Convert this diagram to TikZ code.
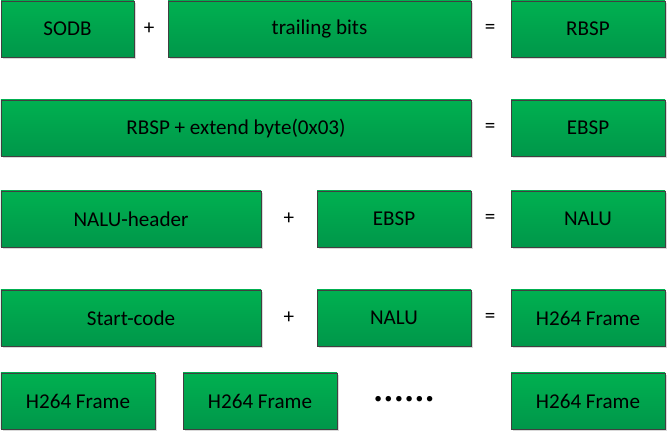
\documentclass[tikz,border=0pt]{standalone}
\usepackage{fontspec}
\setmainfont{Carlito}
\usepackage{xcolor}
\usepackage{tikz}
\usetikzlibrary{shadows}

\definecolor{boxtop}{HTML}{00B050}
\definecolor{boxbot}{HTML}{00974A}
\definecolor{boxline}{HTML}{404040}

\begin{document}
\begin{tikzpicture}[block/.style = {shape=rectangle, draw=boxline, line width=0.7pt, top color=boxtop, bottom color=boxbot, minimum height=1.4cm, inner sep=0pt, font=\fontsize{15}{18}\selectfont, drop shadow={shadow xshift=0.06cm, shadow yshift=-0.06cm, opacity=0.15, fill=black}},
 op/.style = {font=\fontsize{15}{18}\selectfont, inner sep=0pt}]

\useasboundingbox (0,0) rectangle (16.7,-10.775);

% row 1
\node[block, minimum width=3.325cm] (sodb) at (1.6875,-0.725) {SODB};
\node[block, minimum width=7.575cm] (trailing) at (7.9875,-0.725) {trailing bits};
\node[block, minimum width=3.85cm] (rbsp) at (14.7,-0.725) {RBSP};
\node[op] (plusA) at (3.725,-0.725) {+};
\node[op] (eqA) at (12.25,-0.725) {=};

% row 2
\node[block, minimum width=11.75cm] (rbspext) at (5.9,-3.2) {RBSP + extend byte(0x03)};
\node[block, minimum width=3.85cm] (ebsp) at (14.7,-3.2) {EBSP};
\node[op] (eqB) at (12.25,-3.2) {=};

% row 3
\node[block, minimum width=6.5cm] (naluheader) at (3.275,-5.475) {NALU-header};
\node[block, minimum width=3.85cm] (ebspB) at (9.85,-5.475) {EBSP};
\node[block, minimum width=3.85cm] (nalu) at (14.7,-5.475) {NALU};
\node[op] (plusC) at (7.225,-5.475) {+};
\node[op] (eqC) at (12.25,-5.475) {=};

% row 4
\node[block, minimum width=6.5cm] (startcode) at (3.275,-7.95) {Start-code};
\node[block, minimum width=3.85cm] (naluB) at (9.85,-7.95) {NALU};
\node[block, minimum width=3.85cm] (frame) at (14.7,-7.95) {H264 Frame};
\node[op] (plusD) at (7.225,-7.95) {+};
\node[op] (eqD) at (12.25,-7.95) {=};

% row 5
\node[block, minimum width=3.85cm] (frameA) at (1.95,-10.025) {H264 Frame};
\node[block, minimum width=3.85cm] (frameB) at (6.5,-10.025) {H264 Frame};
\node[block, minimum width=3.85cm] (frameN) at (14.7,-10.025) {H264 Frame};
\node[op] (dots) at (10.1,-10.0) {\fontsize{11}{12}\selectfont •\,•\,•\,•\,•\,•};
\end{tikzpicture}
\end{document}
